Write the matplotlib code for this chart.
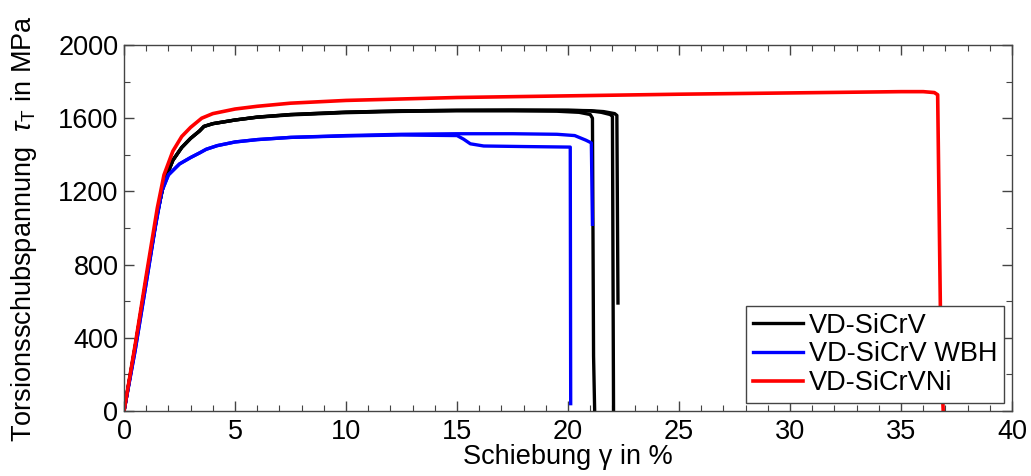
import matplotlib
matplotlib.use("Agg")
import matplotlib.pyplot as plt
from matplotlib.ticker import MultipleLocator

plt.rcParams['font.family'] = ['Liberation Sans', 'DejaVu Sans']
plt.rcParams['mathtext.fontset'] = 'custom'
plt.rcParams['mathtext.rm'] = 'Liberation Sans'
plt.rcParams['mathtext.it'] = 'Liberation Sans:italic'

# --- data ---
black_a_x = [0, 0.5, 1.0, 1.5, 1.8, 2.2, 2.6, 3.0, 3.4, 3.6, 4.0, 5, 6, 7.5, 10, 12.5, 15, 17.5, 19.5, 20.5, 21.0, 21.1, 21.15, 21.2]
black_a_y = [0, 350, 720, 1080, 1250, 1370, 1440, 1490, 1530, 1555, 1570, 1590, 1605, 1618, 1630, 1637, 1640, 1640, 1638, 1632, 1620, 1600, 300, 0]

black_b_x = [0, 0.5, 1.0, 1.5, 1.8, 2.2, 2.6, 3.0, 3.4, 3.6, 4.0, 5, 6, 7.5, 10, 12.5, 15, 17.5, 20, 21.0, 21.5, 21.9, 22.0, 22.05]
black_b_y = [0, 350, 720, 1080, 1250, 1370, 1440, 1490, 1530, 1555, 1570, 1590, 1606, 1620, 1633, 1640, 1643, 1644, 1643, 1640, 1632, 1620, 1610, 0]

black_c_x = [0, 0.5, 1.0, 1.5, 1.8, 2.2, 2.6, 3.0, 3.4, 3.6, 4.0, 5, 6, 7.5, 10, 12.5, 15, 17.5, 20, 21.0, 21.6, 22.1, 22.2, 22.25]
black_c_y = [0, 350, 720, 1080, 1250, 1370, 1440, 1490, 1530, 1555, 1570, 1590, 1606, 1620, 1633, 1640, 1643, 1644, 1643, 1641, 1636, 1625, 1615, 590]

blue_a_x = [0, 0.5, 1.0, 1.4, 1.7, 2.0, 2.5, 3.0, 3.4, 3.7, 4.2, 5, 6, 7.5, 10, 12.5, 15, 17.5, 19.5, 20.3, 20.8, 21.05, 21.1]
blue_a_y = [0, 330, 700, 1000, 1200, 1290, 1350, 1385, 1410, 1430, 1450, 1470, 1483, 1495, 1505, 1512, 1515, 1515, 1512, 1505, 1480, 1465, 1020]

blue_b_x = [0, 0.5, 1.0, 1.4, 1.7, 2.0, 2.5, 3.0, 3.4, 3.7, 4.2, 5, 6, 7.5, 10, 12.5, 15.0, 15.3, 15.6, 16.2, 18, 20.1, 20.12]
blue_b_y = [0, 330, 700, 1000, 1200, 1290, 1350, 1385, 1410, 1430, 1450, 1470, 1483, 1495, 1503, 1508, 1505, 1485, 1460, 1448, 1445, 1442, 40]

red_x = [0, 0.5, 1.0, 1.5, 1.8, 2.2, 2.6, 3.0, 3.5, 4.0, 5, 6, 7.5, 10, 15, 20, 25, 30, 35, 36.0, 36.5, 36.65, 36.8, 36.9]
red_y = [0, 360, 740, 1110, 1290, 1420, 1500, 1550, 1600, 1625, 1650, 1665, 1682, 1697, 1713, 1722, 1731, 1738, 1745, 1745, 1740, 1728, 300, 0]

labels = ['VD-SiCrV', 'VD-SiCrV WBH', 'VD-SiCrVNi']
x_ticks = [0, 5, 10, 15, 20, 25, 30, 35, 40]
y_ticks = [0, 400, 800, 1200, 1600, 2000]

FS = 19.5

fig = plt.figure(figsize=(10.31, 4.76), dpi=100)
ax = fig.add_axes([0.1203, 0.1366, 0.8613, 0.7689])

lw = 2.4
ax.plot(black_a_x, black_a_y, color='black', lw=lw, label=labels[0])
ax.plot(black_b_x, black_b_y, color='black', lw=lw)
ax.plot(black_c_x, black_c_y, color='black', lw=lw)
ax.plot(blue_a_x, blue_a_y, color='#0000ff', lw=lw, label=labels[1])
ax.plot(blue_b_x, blue_b_y, color='#0000ff', lw=lw)
ax.plot(red_x, red_y, color='#ff0000', lw=2.6, label=labels[2])

ax.set_xlim(0, 40)
ax.set_ylim(0, 2000)
ax.set_xticks(x_ticks)
ax.set_yticks(y_ticks)
ax.xaxis.set_minor_locator(MultipleLocator(1))
ax.yaxis.set_minor_locator(MultipleLocator(200))
ax.tick_params(which='both', direction='in', top=True, right=True,
               colors='#444444', labelcolor='black', labelsize=FS)
ax.tick_params(which='major', length=7, width=1)
ax.tick_params(which='minor', length=4, width=0.8)
ax.tick_params(axis='y', which='major', pad=4)
ax.tick_params(axis='x', which='major', pad=6)
for s in ax.spines.values():
    s.set_color('#444444')
    s.set_linewidth(1)

ax.set_xlabel('Schiebung γ in %', fontsize=FS, labelpad=-1)
ax.set_ylabel(r'Torsionsschubspannung  $\tau_{\mathrm{T}}$ in MPa', fontsize=FS, labelpad=14)

leg = ax.legend(loc='lower right', fontsize=FS, frameon=True, fancybox=False,
                edgecolor='#444444', handlelength=1.85, handletextpad=0.2,
                borderpad=0.25, labelspacing=0.1, borderaxespad=0.3,
                framealpha=1)
leg.get_frame().set_linewidth(1)

fig.savefig('out.png', dpi=100)
